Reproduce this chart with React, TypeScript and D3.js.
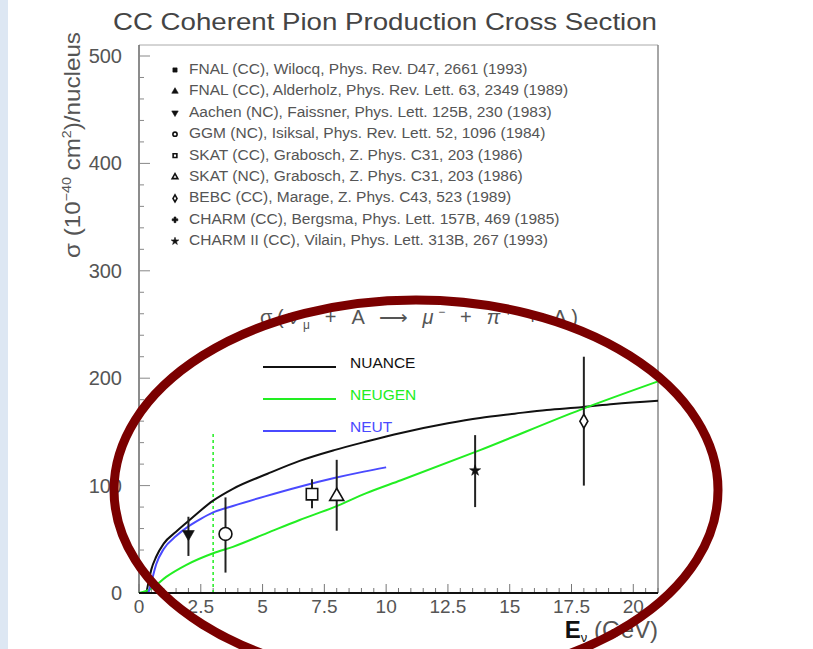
import React from "react";
import * as d3 from "d3";

// Model predictions: neutrino energy (GeV) vs. cross section (1e-40 cm^2 / nucleus)
const nuanceE = [0.3, 0.4, 0.5, 0.7, 1.0, 1.5, 2.0, 3.0, 3.8, 5.2, 6.5, 7.9, 9.2, 10.6, 12.5, 13.8, 15.2, 16.5, 17.9, 19.2, 21];
const nuanceSigma = [0, 12, 22, 34, 46, 57, 67, 86, 97, 111, 123, 133, 141, 149, 158, 163, 167, 170.5, 173, 176, 179];

const neugenE = [0, 0.5, 1.1, 1.9, 3.0, 3.8, 5.2, 6.5, 7.9, 9.2, 10.6, 13.8, 17.9, 21];
const neugenSigma = [0, 4, 15, 26, 37, 43, 56, 68, 80, 93, 105, 133, 171, 197];

const neutE = [0.38, 0.5, 0.7, 1.0, 1.5, 2.0, 2.5, 3.0, 3.8, 5.1, 6.5, 7.9, 9.1, 10];
const neutSigma = [0, 10, 27, 41, 53, 62, 69, 75, 81, 90, 99, 107, 113, 117];

const modelNames = ["NUANCE", "NEUGEN", "NEUT"];
const modelColors = ["#111111", "#22ee22", "#4a4aff"];

// Experiments
const expLabels = [
  "FNAL (CC), Wilocq, Phys. Rev. D47, 2661 (1993)",
  "FNAL (CC), Alderholz, Phys. Rev. Lett. 63, 2349 (1989)",
  "Aachen (NC), Faissner, Phys. Lett. 125B, 230 (1983)",
  "GGM (NC), Isiksal, Phys. Rev. Lett. 52, 1096 (1984)",
  "SKAT (CC), Grabosch, Z. Phys. C31, 203 (1986)",
  "SKAT (NC), Grabosch, Z. Phys. C31, 203 (1986)",
  "BEBC (CC), Marage, Z. Phys. C43, 523 (1989)",
  "CHARM (CC), Bergsma, Phys. Lett. 157B, 469 (1985)",
  "CHARM II (CC), Vilain, Phys. Lett. 313B, 267 (1993)",
];
const expMarkers = [
  "squareFilled",
  "triangleFilled",
  "triangleDownFilled",
  "circleOpen",
  "squareOpen",
  "triangleOpen",
  "diamondOpen",
  "crossFilled",
  "starFilled",
];

// Measured points
const pointExp = [2, 3, 4, 5, 8, 6];
const pointE = [2.0, 3.5, 7.0, 8.0, 13.6, 18.0];
const pointSigma = [55, 55, 92, 90, 114, 160];
const pointLow = [34.5, 19, 79, 58, 80, 100];
const pointHigh = [71, 89, 106, 124, 147, 220];

const yTicks = [0, 100, 200, 300, 400, 500];
const xTicks = [0, 2.5, 5, 7.5, 10, 12.5, 15, 17.5, 20];
const xTickLabels = ["0", "2.5", "5", "7.5", "10", "12.5", "15", "17.5", "20"];

const W = 813;
const H = 649;
const left = 139;
const right = 658;
const top = 45;
const bottom = 593;

const x = d3.scaleLinear().domain([0, 21]).range([left, right]);
const y = d3.scaleLinear().domain([0, 500]).range([bottom, 56]);

const FONT = "'Liberation Sans', Arial, sans-serif";
const GRAY = "#555";

function Marker({ kind, cx, cy, size }: { kind: string; cx: number; cy: number; size: number }) {
  const filled = kind.endsWith("Filled");
  let type: d3.SymbolType = d3.symbolSquare;
  let rot = 0;
  if (kind.startsWith("square")) type = d3.symbolSquare;
  else if (kind.startsWith("triangleDown")) {
    type = d3.symbolTriangle;
    rot = 180;
  } else if (kind.startsWith("triangle")) type = d3.symbolTriangle;
  else if (kind.startsWith("circle")) type = d3.symbolCircle;
  else if (kind.startsWith("diamond")) type = d3.symbolDiamond;
  else if (kind.startsWith("cross")) type = d3.symbolCross;
  else if (kind.startsWith("star")) type = d3.symbolStar;
  const path = d3.symbol().type(type).size(size)() || "";
  return (
    <path
      d={path}
      transform={`translate(${cx},${cy}) rotate(${rot})`}
      fill={filled ? "#111" : "#fff"}
      stroke="#111"
      strokeWidth={filled ? 0.6 : 1.6}
    />
  );
}

export default function App() {
  const line = d3
    .line<[number, number]>()
    .x((d) => x(d[0]))
    .y((d) => y(d[1]))
    .curve(d3.curveMonotoneX);

  const models: [number[], number[]][] = [
    [nuanceE, nuanceSigma],
    [neugenE, neugenSigma],
    [neutE, neutSigma],
  ];

  const yMinor = d3.range(0, 511, 20);
  const xMinor = d3.range(0, 21.01, 0.5);

  const markerSize = (kind: string) =>
    kind.startsWith("diamond")
      ? 55
      : kind.startsWith("star")
      ? 38
      : kind.startsWith("circle")
      ? 130
      : kind.startsWith("triangleDown")
      ? 60
      : kind.startsWith("triangle")
      ? 85
      : 130;

  return (
    <svg
      width={W}
      height={H}
      style={{ position: "fixed", left: 0, top: 0, background: "#fff" }}
      fontFamily={FONT}
    >
      <rect x={0} y={0} width={8} height={H} fill="#dde7f3" />

      {/* title */}
      <text x={385} y={30} textAnchor="middle" fontSize={24} fill="#444" textLength={544} lengthAdjust="spacingAndGlyphs">
        CC Coherent Pion Production Cross Section
      </text>

      {/* frame */}
      <line x1={left} x2={right} y1={top} y2={top} stroke="#aaa" strokeWidth={1} />
      <line x1={right} x2={right} y1={top} y2={bottom} stroke="#888" strokeWidth={1.5} />
      <line x1={left} x2={left} y1={top} y2={bottom} stroke="#666" strokeWidth={1.5} />

      {/* y ticks */}
      {yMinor.map((v) => (
        <line key={"ym" + v} x1={left} x2={left + (v % 100 === 0 ? 11 : 5)} y1={y(v)} y2={y(v)} stroke="#888" strokeWidth={1} />
      ))}
      {yTicks.map((v) => (
        <text key={"yl" + v} x={122} y={y(v) + 7} textAnchor="end" fontSize={20} fill={GRAY}>
          {v}
        </text>
      ))}

      {/* x ticks */}
      {xMinor.map((v) => (
        <line
          key={"xm" + v}
          x1={x(v)}
          x2={x(v)}
          y1={bottom}
          y2={bottom - (Math.abs(v / 2.5 - Math.round(v / 2.5)) < 1e-6 ? 9 : 5)}
          stroke="#777"
          strokeWidth={1}
        />
      ))}
      {xTicks.map((v, i) => (
        <text key={"xl" + v} x={x(v)} y={613} textAnchor="middle" fontSize={19} fill={GRAY}>
          {xTickLabels[i]}
        </text>
      ))}

      {/* axis titles */}
      <text transform="translate(80,145) rotate(-90)" textAnchor="middle" fontSize={22} fill={GRAY} textLength={226} lengthAdjust="spacingAndGlyphs">
        σ (10
        <tspan dy={-9} fontSize={13}>−40</tspan>
        <tspan dy={9}> cm</tspan>
        <tspan dy={-9} fontSize={13}>2</tspan>
        <tspan dy={9}>)/nucleus</tspan>
      </text>
      <text x={658} y={638} textAnchor="end" fontSize={24} fill={GRAY}>
        <tspan fontWeight="bold" fill="#111">E</tspan>
        <tspan dy={4} fontSize={13} fill="#111">ν</tspan>
        <tspan dy={-4}> (GeV)</tspan>
      </text>

      {/* experiment legend */}
      {expLabels.map((lab, i) => (
        <g key={"el" + i}>
          <Marker kind={expMarkers[i]} cx={175} cy={74 + i * 21.4 - 4} size={expMarkers[i].endsWith("Open") ? 14 : 18} />
          <text x={189} y={74 + i * 21.4} fontSize={15.5} fill={GRAY}>
            {lab}
          </text>
        </g>
      ))}

      {/* process label */}
      <text x={260} y={324} fontSize={20} fill={GRAY} textLength={318} lengthAdjust="spacing">
        σ(ν<tspan dy={5} fontSize={12}>μ</tspan>
        <tspan dy={-5}> + A ⟶ </tspan>
        <tspan fontStyle="italic">μ</tspan>
        <tspan dy={-8} fontSize={12}>−</tspan>
        <tspan dy={8}> + </tspan>
        <tspan fontStyle="italic">π</tspan>
        <tspan dy={-8} fontSize={12}>+</tspan>
        <tspan dy={8}> + A)</tspan>
      </text>

      {/* model legend */}
      {modelNames.map((name, i) => (
        <g key={"ml" + i}>
          <line x1={263} x2={336} y1={367 + i * 32} y2={367 + i * 32} stroke={modelColors[i]} strokeWidth={2} />
          <text x={350} y={368 + i * 32} fontSize={15.5} fill={modelColors[i]}>
            {name}
          </text>
        </g>
      ))}

      {/* threshold marker */}
      <line x1={x(3)} x2={x(3)} y1={y(0)} y2={y(150)} stroke="#22ee22" strokeWidth={1.5} strokeDasharray="3,3" />

      {/* model curves */}
      {models.map(([es, ss], i) => (
        <path
          key={"mc" + i}
          d={line(es.map((e, j) => [e, ss[j]] as [number, number])) || ""}
          fill="none"
          stroke={modelColors[i]}
          strokeWidth={2}
        />
      ))}

      {/* measurements */}
      {pointE.map((e, i) => (
        <g key={"pt" + i}>
          <line x1={x(e)} x2={x(e)} y1={y(pointLow[i])} y2={y(pointHigh[i])} stroke="#222" strokeWidth={2} />
          <Marker kind={expMarkers[pointExp[i]]} cx={x(e)} cy={y(pointSigma[i])} size={markerSize(expMarkers[pointExp[i]])} />
        </g>
      ))}

      {/* bottom axis */}
      <line x1={left} x2={right} y1={bottom} y2={bottom} stroke="#111" strokeWidth={2} />

      {/* highlight ellipse */}
      <ellipse cx={416} cy={490} rx={302} ry={190} fill="none" stroke="#7b0000" strokeWidth={9} />
    </svg>
  );
}
